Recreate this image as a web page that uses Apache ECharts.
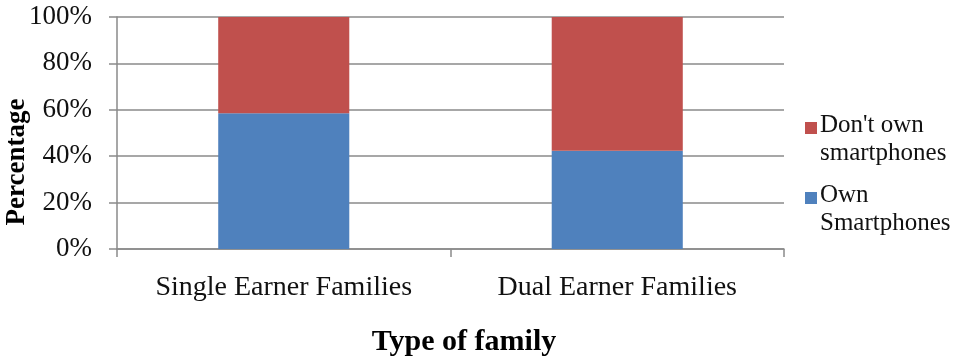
<!DOCTYPE html>
<html>
<head>
<meta charset="utf-8">
<script src="https://cdn.jsdelivr.net/npm/echarts@6/dist/echarts.min.js"></script>
<style>
  html, body { margin: 0; padding: 0; background: #fff; }
  #chart { width: 957px; height: 357px; }
</style>
</head>
<body>
<div id="chart"></div>
<script>
var categories = ["Single Earner Families", "Dual Earner Families"];
var ownSmartphones = [58.5, 42.4];
var dontOwnSmartphones = [41.5, 57.6];
var yTicks = [0, 20, 40, 60, 80, 100];

var chartDom = document.getElementById("chart");
var myChart = echarts.init(chartDom);

var serif = "Liberation Serif";
var gridColor = "#8a8a8a";

var option = {
  animation: false,
  grid: { left: 117, right: 173, top: 17, bottom: 108, containLabel: false, outerBoundsMode: "none" },
  legend: {
    orient: "vertical",
    left: 805,
    top: 111,
    padding: 0,
    itemGap: 14,
    itemWidth: 12,
    itemHeight: 34,
    icon: "path://M0 0H10V10H0Z M0 28.3H0.01V28.31H0Z",
    data: ["Don't own\nsmartphones", "Own\nSmartphones"],
    textStyle: { fontFamily: serif, fontSize: 25, color: "#111", lineHeight: 28, padding: [0, 0, 0, -2] }
  },
  xAxis: {
    type: "category",
    data: categories,
    name: "Type of family",
    nameLocation: "middle",
    nameGap: 78,
    nameTextStyle: { fontFamily: serif, fontSize: 30, fontWeight: "bold", color: "#000", padding: [0, 0, 0, 27] },
    axisLine: { lineStyle: { color: gridColor, width: 1.5 } },
    axisTick: { show: true, length: 8, lineStyle: { color: gridColor, width: 1.5 } },
    axisLabel: { fontFamily: serif, fontSize: 28, color: "#111", margin: 25, interval: 0, hideOverlap: false }
  },
  yAxis: {
    type: "value",
    min: 0,
    max: 100,
    interval: 20,
    axisLine: { show: true, lineStyle: { color: gridColor, width: 1.5 } },
    axisTick: { show: true, length: 8, lineStyle: { color: gridColor, width: 1.5 } },
    splitLine: { lineStyle: { color: gridColor, width: 1.5 } },
    axisLabel: {
      fontFamily: serif, fontSize: 27, color: "#111", margin: 25,
      formatter: function (v) { return yTicks.indexOf(v) >= 0 ? v + "%" : ""; }
    }
  },
  graphic: [{
    type: "text",
    x: 17,
    y: 162,
    rotation: Math.PI / 2,
    style: {
      text: "Percentage",
      fontFamily: serif,
      fontSize: 27,
      fontWeight: "bold",
      fill: "#000",
      align: "center",
      verticalAlign: "middle"
    }
  }],
  series: [
    {
      name: "Own\nSmartphones",
      type: "bar",
      stack: "total",
      barWidth: "39.3%",
      data: ownSmartphones,
      itemStyle: { color: "#4F81BD" }
    },
    {
      name: "Don't own\nsmartphones",
      type: "bar",
      stack: "total",
      barWidth: "39.3%",
      data: dontOwnSmartphones,
      itemStyle: { color: "#C0504D" }
    }
  ]
};

option && myChart.setOption(option);
</script>
</body>
</html>
